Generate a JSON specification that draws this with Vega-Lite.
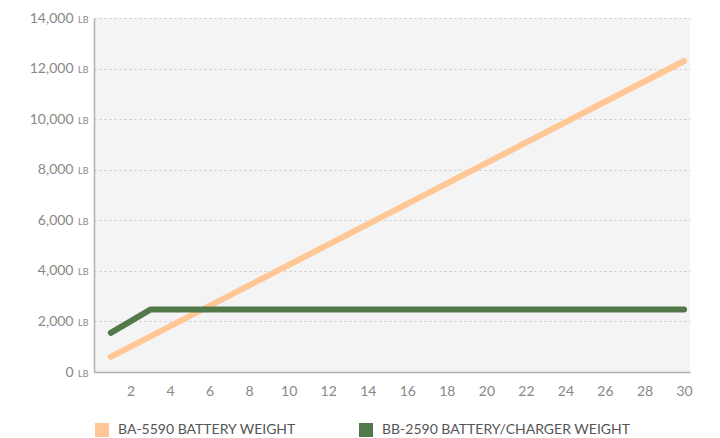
{
  "$schema": "https://vega.github.io/schema/vega-lite/v6.json",
  "autosize": "none",
  "width": 596,
  "height": 354,
  "padding": {"left": 94, "top": 18, "right": 30, "bottom": 66},
  "background": "white",
  "config": {
    "view": {"fill": "#f4f4f4", "stroke": null},
    "font": "Lato"
  },
  "data": {
    "values": [
      {"series": "BA-5590 BATTERY WEIGHT", "units": 1, "weight": 600},
      {"series": "BA-5590 BATTERY WEIGHT", "units": 30, "weight": 12300},
      {"series": "BB-2590 BATTERY/CHARGER WEIGHT", "units": 1, "weight": 1550},
      {"series": "BB-2590 BATTERY/CHARGER WEIGHT", "units": 3, "weight": 2470},
      {"series": "BB-2590 BATTERY/CHARGER WEIGHT", "units": 30, "weight": 2470}
    ]
  },
  "resolve": {"axis": {"y": "independent"}},
  "layer": [
    {
      "mark": {"type": "line", "strokeWidth": 6, "strokeCap": "round", "strokeJoin": "round"},
      "encoding": {
        "x": {
          "field": "units", "type": "quantitative",
          "scale": {"domain": [0.15, 30.3], "nice": false, "zero": false},
          "axis": {
            "title": null, "values": [2,4,6,8,10,12,14,16,18,20,22,24,26,28,30],
            "ticks": false, "grid": false, "domainColor": "#b0b0b0", "domainWidth": 1.5,
            "labelColor": "#888888", "labelFontSize": 14, "labelPadding": 12
          }
        },
        "y": {
          "field": "weight", "type": "quantitative",
          "scale": {"domain": [0, 14000], "nice": false},
          "axis": {
            "orient": "left", "title": null, "values": [0,2000,4000,6000,8000,10000,12000,14000],
            "format": ",d", "ticks": false, "domainColor": "#b0b0b0", "domainWidth": 1.5,
            "grid": true, "gridColor": "#c8c8c8", "gridDash": [2, 3], "gridWidth": 1,
            "labelColor": "#888888", "labelFontSize": 14, "labelPadding": 21
          }
        },
        "color": {
          "field": "series", "type": "nominal",
          "scale": {"domain": ["BA-5590 BATTERY WEIGHT", "BB-2590 BATTERY/CHARGER WEIGHT"], "range": ["#ffc796", "#52794a"]},
          "legend": {
            "title": null, "orient": "none", "legendX": 1, "legendY": 405,
            "direction": "horizontal", "symbolType": "square", "symbolSize": 196,
            "symbolStrokeWidth": 0, "symbolOpacity": 1, "labelFontSize": 14, "labelColor": "#555555",
            "labelOffset": 9, "columnPadding": 62, "labelLimit": 400,
            "encode": {
              "symbols": {"update": {"fill": {"scale": "color", "field": "value"}, "fillOpacity": {"value": 1}, "strokeWidth": {"value": 0}}}
            }
          }
        }
      }
    },
    {
      "mark": {"type": "line", "opacity": 0},
      "encoding": {
        "x": {"field": "units", "type": "quantitative"},
        "y": {
          "field": "weight", "type": "quantitative",
          "axis": {
            "orient": "left", "title": null, "values": [0,2000,4000,6000,8000,10000,12000,14000],
            "labelExpr": "'LB'", "ticks": false, "domain": false, "grid": false,
            "labelColor": "#888888", "labelFontSize": 9, "labelPadding": 6, "labelBaseline": "middle", "labelOffset": 1
          }
        }
      }
    }
  ]
}
